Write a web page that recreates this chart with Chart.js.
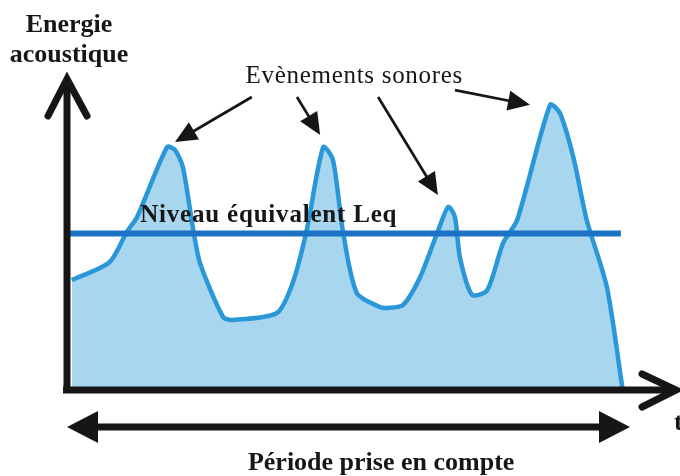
<!DOCTYPE html>
<html lang="fr">
<head>
<meta charset="UTF-8" />
<title>Energie acoustique</title>
<script src="https://cdn.jsdelivr.net/npm/chart.js"></script>
<style>
  html, body { margin: 0; padding: 0; background: #fff; }
</style>
</head>
<body>
<canvas id="chart" width="680" height="476"></canvas>
<script>
  // time axis (0..100) and acoustic energy (0..100)
  const timeValues = [0.8, 7.0, 9.8, 11.5, 16.4, 17.7, 19.0, 20.7, 21.8, 25.6, 27.2, 34.4, 37.0, 39.3, 42.0, 43.6, 45.2, 47.5, 51.3, 52.5, 55.1, 57.9, 60.7, 62.5, 63.6, 64.4, 66.4, 68.9, 71.5, 73.8, 79.2, 80.8, 83.0, 85.2, 88.5, 91.1];
  const energyValues = [35.1, 40.9, 50.5, 55.3, 77.6, 76.7, 71.2, 51.1, 40.6, 23.3, 22.4, 24.6, 34.2, 51.1, 77.6, 73.5, 51.1, 31.0, 26.5, 26.2, 27.2, 36.1, 50.2, 58.5, 55.3, 42.5, 30.4, 31.9, 47.0, 54.3, 91.1, 88.5, 74.4, 54.3, 32.9, 0];

  // equivalent level Leq and the time span it is drawn over
  const leqLevel = 50;
  const leqSpan = [0.5, 90.8];

  // period taken into account (drawn below the time axis)
  const periodSpan = [0, 92.3];
  const periodLevel = -11.8;

  // "Evènements sonores" arrows: [fromTime, fromEnergy, toTime, toEnergy]
  const eventArrows = [
    [30.3, 93.6, 17.7, 79.2],
    [37.7, 93.6, 41.5, 81.5],
    [51.0, 93.6, 60.8, 62.3],
    [63.6, 95.8, 75.9, 91.1]
  ];

  const labels = {
    yTitle: ["Energie", "acoustique"],
    xTitle: "t",
    events: "Evènements sonores",
    leq: "Niveau équivalent Leq",
    period: "Période prise en compte"
  };

  const ink = "#161616";
  const serif = "'Liberation Serif', 'DejaVu Serif', serif";

  function arrowHead(ctx, x1, y1, x2, y2, len, half) {
    const a = Math.atan2(y2 - y1, x2 - x1);
    ctx.beginPath();
    ctx.moveTo(x2, y2);
    ctx.lineTo(x2 - len * Math.cos(a) + half * Math.sin(a), y2 - len * Math.sin(a) - half * Math.cos(a));
    ctx.lineTo(x2 - len * Math.cos(a) - half * Math.sin(a), y2 - len * Math.sin(a) + half * Math.cos(a));
    ctx.closePath();
    ctx.fill();
  }

  const sketchPlugin = {
    id: "sketch",
    afterDatasetsDraw(chart) {
      const ctx = chart.ctx;
      const xs = chart.scales.x;
      const ys = chart.scales.y;
      const area = chart.chartArea;
      ctx.save();
      ctx.strokeStyle = ink;
      ctx.fillStyle = ink;

      // axes
      const ox = xs.getPixelForValue(0);
      const oy = ys.getPixelForValue(0);
      ctx.lineWidth = 7;
      ctx.lineCap = "butt";
      ctx.beginPath();
      ctx.moveTo(ox, oy + 3);
      ctx.lineTo(ox, area.top + 3);
      ctx.moveTo(ox - 4, oy);
      ctx.lineTo(area.right - 2, oy);
      ctx.stroke();

      // open arrow tips of the axes
      ctx.lineCap = "round";
      ctx.lineJoin = "miter";
      ctx.beginPath();
      ctx.moveTo(ox - 19, area.top + 39);
      ctx.lineTo(ox, area.top + 2);
      ctx.lineTo(ox + 20, area.top + 39);
      ctx.moveTo(area.right - 35, oy - 16);
      ctx.lineTo(area.right - 1, oy);
      ctx.lineTo(area.right - 35, oy + 17);
      ctx.stroke();

      // period arrow
      const py = ys.getPixelForValue(periodLevel);
      const pa = xs.getPixelForValue(periodSpan[0]);
      const pb = xs.getPixelForValue(periodSpan[1]);
      ctx.lineCap = "butt";
      ctx.lineWidth = 7;
      ctx.beginPath();
      ctx.moveTo(pa + 20, py);
      ctx.lineTo(pb - 20, py);
      ctx.stroke();
      arrowHead(ctx, pb - 40, py, pb, py, 31, 16);
      arrowHead(ctx, pa + 40, py, pa, py, 31, 16);

      // event arrows
      ctx.lineWidth = 2.7;
      eventArrows.forEach(([fx, fy, tx, ty]) => {
        const x1 = xs.getPixelForValue(fx), y1 = ys.getPixelForValue(fy);
        const x2 = xs.getPixelForValue(tx), y2 = ys.getPixelForValue(ty);
        const a = Math.atan2(y2 - y1, x2 - x1);
        ctx.beginPath();
        ctx.moveTo(x1, y1);
        ctx.lineTo(x2 - 15 * Math.cos(a), y2 - 15 * Math.sin(a));
        ctx.stroke();
        arrowHead(ctx, x1, y1, x2, y2, 22, 10);
      });

      // texts
      ctx.textBaseline = "alphabetic";
      ctx.textAlign = "center";
      ctx.font = "bold 26px " + serif;
      ctx.fillText(labels.yTitle[0], ox + 2, area.top - 45);
      ctx.fillText(labels.yTitle[1], ox + 2, area.top - 15);
      ctx.font = "25px " + serif;
      ctx.letterSpacing = "0.7px";
      ctx.fillText(labels.events, xs.getPixelForValue(47.1), area.top + 6);
      ctx.font = "bold 25px " + serif;
      ctx.letterSpacing = "0.8px";
      ctx.textAlign = "left";
      ctx.fillText(labels.leq, xs.getPixelForValue(12.0), ys.getPixelForValue(leqLevel) - 12);
      ctx.letterSpacing = "0px";
      ctx.font = "bold 26px " + serif;
      ctx.textAlign = "center";
      ctx.fillText(labels.period, xs.getPixelForValue(51.5), area.bottom + 80);
      ctx.textAlign = "left";
      ctx.fillText(labels.xTitle, area.right - 3, area.bottom + 40);
      ctx.restore();
    }
  };

  new Chart(document.getElementById("chart").getContext("2d"), {
    type: "line",
    data: {
      datasets: [
        {
          label: "Leq",
          data: leqSpan.map(t => ({ x: t, y: leqLevel })),
          borderColor: "#1c73c6",
          borderWidth: 6,
          borderCapStyle: "butt",
          pointRadius: 0,
          fill: false,
          order: 0
        },
        {
          label: "Energie acoustique",
          data: timeValues.map((t, i) => ({ x: t, y: energyValues[i] })),
          borderColor: "#2a97d8",
          borderWidth: 4.5,
          backgroundColor: "#a8d6ef",
          pointRadius: 0,
          tension: 0.25,
          fill: "origin",
          order: 1
        }
      ]
    },
    options: {
      responsive: false,
      animation: false,
      layout: { padding: { left: 67, right: 3, top: 77, bottom: 86 } },
      plugins: { legend: { display: false }, tooltip: { enabled: false } },
      scales: {
        x: { type: "linear", min: 0, max: 100, display: false },
        y: { min: 0, max: 100, display: false }
      }
    },
    plugins: [sketchPlugin]
  });
</script>
</body>
</html>
